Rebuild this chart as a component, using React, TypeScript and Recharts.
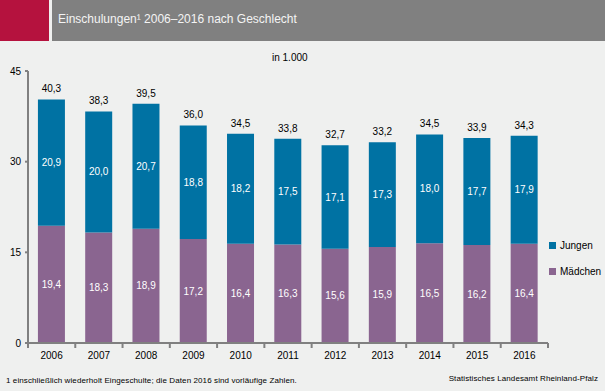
import React from 'react'
import { BarChart, Bar, XAxis, YAxis, LabelList } from 'recharts'

const years = ['2006', '2007', '2008', '2009', '2010', '2011', '2012', '2013', '2014', '2015', '2016']
const maedchen = [19.4, 18.3, 18.9, 17.2, 16.4, 16.3, 15.6, 15.9, 16.5, 16.2, 16.4]
const jungen = [20.9, 20.0, 20.7, 18.8, 18.2, 17.5, 17.1, 17.3, 18.0, 17.7, 17.9]
const totals = [40.3, 38.3, 39.5, 36.0, 34.5, 33.8, 32.7, 33.2, 34.5, 33.9, 34.3]
const yTicks = [0, 15, 30, 45]

const data = years.map((year, i) => ({
  year,
  maedchen: maedchen[i],
  jungen: jungen[i],
  total: totals[i]
}))

const BLUE = '#0072a3'
const PURPLE = '#8a6590'
const AXIS = '#808080'
const FONT = '"Liberation Sans", Arial, sans-serif'

const fmt = (v: any) => Number(v).toFixed(1).replace('.', ',')

const plotLeft = 28
const plotRight = 548
const step = (plotRight - plotLeft) / years.length

const YearTick = ({ x, y, payload, index }: any) => (
  <g>
    {index === 0 && <line x1={x - step / 2} y1={y - 8} x2={x - step / 2} y2={y - 3} stroke={AXIS} strokeWidth={2} />}
    <line x1={x + step / 2} y1={y - 8} x2={x + step / 2} y2={y - 3} stroke={AXIS} strokeWidth={2} />
    <text x={x} y={y + 8} textAnchor="middle" fontSize={10} fill="#000" fontFamily={FONT}>
      {payload.value}
    </text>
  </g>
)

const legendItems = [
  { label: 'Jungen', color: BLUE },
  { label: 'Mädchen', color: PURPLE }
]

export default function App() {
  return (
    <div style={{ position: 'absolute', left: 0, top: 0, width: 605, height: 391, background: '#eff0ef', overflow: 'hidden', fontFamily: FONT }}>
      <div style={{ position: 'absolute', left: 0, top: 0, width: 49, height: 41, background: '#b5123e' }} />
      <div style={{ position: 'absolute', left: 52, top: 0, width: 553, height: 41, background: '#808080' }} />
      <div style={{ position: 'absolute', left: 58, top: 12, fontSize: 12, color: '#f4f4f4' }}>
        Einschulungen¹ 2006–2016 nach Geschlecht
      </div>
      <div style={{ position: 'absolute', left: 272, top: 52, fontSize: 10, color: '#000' }}>in 1.000</div>

      <div style={{ position: 'absolute', left: 0, top: 0 }}>
        <BarChart
          width={605}
          height={391}
          data={data}
          margin={{ top: 71, right: 605 - plotRight, bottom: 28, left: 0 }}
          barCategoryGap="21%"
        >
          <XAxis
            dataKey="year"
            height={20}
            tick={<YearTick />}
            tickLine={false}
            axisLine={{ stroke: AXIS, strokeWidth: 2 }}
            interval={0}
          />
          <YAxis
            width={plotLeft}
            domain={[0, 45]}
            ticks={yTicks}
            interval={0}
            tickSize={3}
            tickMargin={4}
            tick={{ fontSize: 10, fill: '#000', fontFamily: FONT }}
            tickLine={{ stroke: AXIS, strokeWidth: 2 }}
            axisLine={{ stroke: AXIS, strokeWidth: 2 }}
          />
          <Bar dataKey="maedchen" name="Mädchen" stackId="a" fill={PURPLE} isAnimationActive={false}>
            <LabelList dataKey="maedchen" position="center" formatter={fmt} fill="#fff" fontSize={10} fontFamily={FONT} />
          </Bar>
          <Bar dataKey="jungen" name="Jungen" stackId="a" fill={BLUE} isAnimationActive={false}>
            <LabelList dataKey="jungen" position="center" formatter={fmt} fill="#fff" fontSize={10} fontFamily={FONT} />
            <LabelList dataKey="total" position="top" offset={7} formatter={fmt} fill="#000" fontSize={10} fontFamily={FONT} />
          </Bar>
        </BarChart>
      </div>

      <div style={{ position: 'absolute', left: 549, top: 232, fontSize: 10, color: '#000' }}>
        {legendItems.map((item) => (
          <div key={item.label} style={{ display: 'flex', alignItems: 'center', height: 26 }}>
            <span style={{ width: 7, height: 7, background: item.color, marginRight: 4, display: 'inline-block' }} />
            {item.label}
          </div>
        ))}
      </div>

      <div style={{ position: 'absolute', left: 6, top: 376, fontSize: 8, letterSpacing: 0.1, color: '#000' }}>
        1 einschließlich wiederholt Eingeschulte; die Daten 2016 sind vorläufige Zahlen.
      </div>
      <div style={{ position: 'absolute', right: 7, top: 374, fontSize: 8, letterSpacing: 0.1, color: '#000' }}>
        Statistisches Landesamt Rheinland-Pfalz
      </div>
    </div>
  )
}
